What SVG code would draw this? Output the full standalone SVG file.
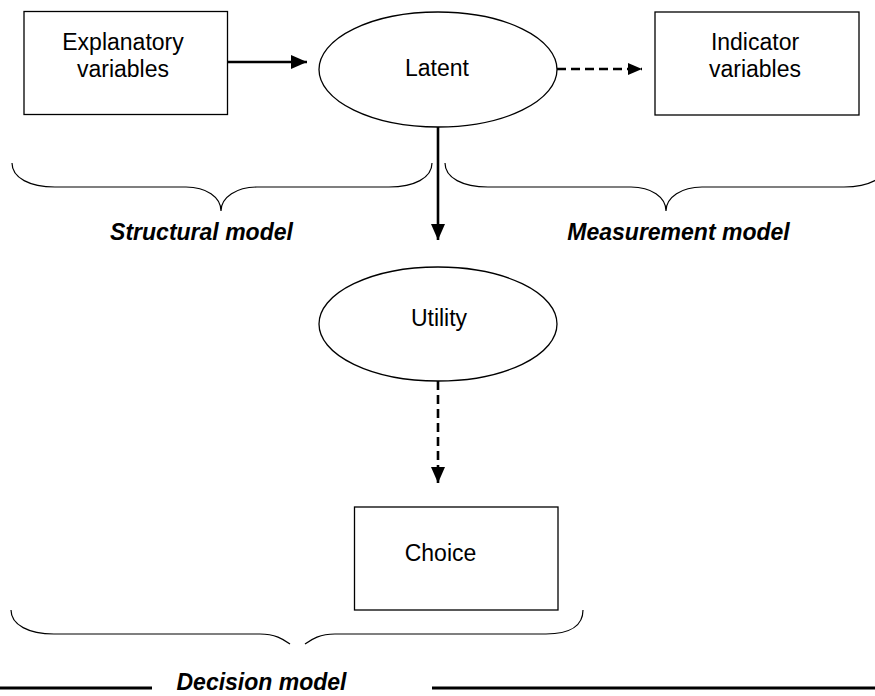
<svg xmlns="http://www.w3.org/2000/svg" width="875" height="696" viewBox="0 0 875 696">
<style>
.node{fill:#fff;stroke:#000;stroke-width:1.3}
.lbl{font-family:"Liberation Sans",Arial,sans-serif;font-size:23px;fill:#000;text-anchor:middle}
.cap{font-family:"Liberation Sans",Arial,sans-serif;font-size:23px;font-weight:bold;font-style:italic;fill:#000;text-anchor:middle}
.brace{fill:none;stroke:#000;stroke-width:1.2}
.solid{stroke:#000;stroke-width:2.6;fill:none}
.dash{stroke:#000;stroke-width:2.6;fill:none;stroke-dasharray:9 5}
.rule{stroke:#000;stroke-width:2.8}
</style>
<defs>
<marker id="ah" viewBox="0 0 16 14" refX="16" refY="7" markerWidth="16" markerHeight="14" markerUnits="userSpaceOnUse" orient="auto">
<path d="M0,0 L16,7 L0,14 Z" fill="#000"/>
</marker>
<marker id="ahs" viewBox="0 0 14 12" refX="14" refY="6" markerWidth="14" markerHeight="12" markerUnits="userSpaceOnUse" orient="auto">
<path d="M0,0 L14,6 L0,12 Z" fill="#000"/>
</marker>
</defs>

<g id="explanatory">
<rect class="node" x="24" y="11.5" width="203.5" height="103"/>
<text class="lbl" x="123" y="50">Explanatory</text>
<text class="lbl" x="123" y="77">variables</text>
</g>

<g id="latent">
<ellipse class="node" cx="438" cy="69.5" rx="119" ry="57.5"/>
<text class="lbl" x="437" y="76">Latent</text>
</g>

<g id="indicator">
<rect class="node" x="655" y="12" width="204" height="103"/>
<text class="lbl" x="755" y="50">Indicator</text>
<text class="lbl" x="755" y="77">variables</text>
</g>

<g id="utility">
<ellipse class="node" cx="438" cy="324" rx="119" ry="57"/>
<text class="lbl" x="439" y="326">Utility</text>
</g>

<g id="choice">
<rect class="node" x="354.5" y="507" width="203.5" height="103"/>
<text class="lbl" x="440.5" y="561">Choice</text>
</g>

<g id="connectors">
<line class="solid" x1="227.5" y1="62" x2="307" y2="62" marker-end="url(#ah)"/>
<line class="dash" x1="557" y1="69" x2="642" y2="69" marker-end="url(#ahs)"/>
<line class="solid" x1="438" y1="127" x2="438" y2="240" marker-end="url(#ah)"/>
<line class="dash" x1="438" y1="381" x2="438" y2="483" marker-end="url(#ah)"/>
</g>

<g id="structural-model">
<path class="brace" d="M12,163 C12,178 30,187 55,187 L186,187 C206,187 221,197 221,211 C221,197 237,187 257,187 L389,187 C414,187 432,178 432,163"/>
<text class="cap" x="201.5" y="240">Structural model</text>
</g>

<g id="measurement-model">
<path class="brace" d="M445,163 C445,178 463,187 488,187 L631,187 C651,187 666,197 666,211 C666,197 682,187 702,187 L844,187 C869,187 887,178 887,163"/>
<text class="cap" x="678.5" y="240">Measurement model</text>
</g>

<g id="decision-model">
<path class="brace" d="M11,610 C11,625 29,634 54,634 L260,634 C275,634 283,639 290,644 M305,644 C312,639 320,634 335,634 L546,634 C571,634 583,625 583,610"/>
<line class="rule" x1="0" y1="688" x2="152" y2="688"/>
<line class="rule" x1="432" y1="688" x2="875" y2="688"/>
<text class="cap" x="261.5" y="690">Decision model</text>
</g>
</svg>
